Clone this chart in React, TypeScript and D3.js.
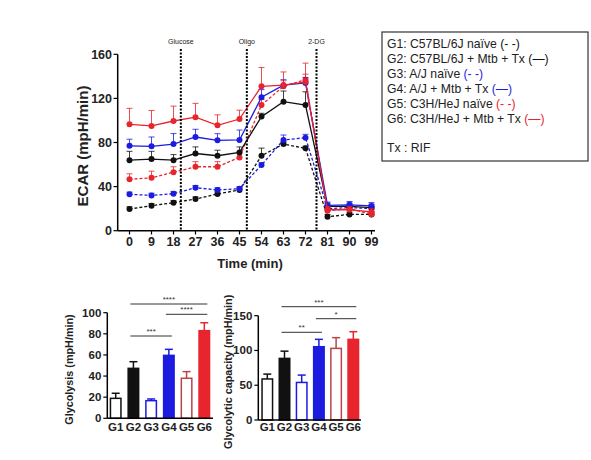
import React from 'react';
import * as d3 from 'd3';

const times = [0, 9, 18, 27, 36, 45, 54, 63, 72, 81, 90, 99];
const g1Mean = [19.7, 22.7, 25.4, 28.7, 33.3, 37, 68, 78.6, 74.7, 12.7, 14.8, 14.8];
const g1Err = [2, 2, 2, 2, 2, 2, 6.9, 2, 2, 2, 2, 2];
const g2Mean = [64, 65, 64, 70, 68, 71, 103.5, 117, 114, 22, 22, 21];
const g2Err = [8, 7, 5, 6, 5, 5, 3, 9.7, 12, 3, 3, 3];
const g3Mean = [33, 32, 33.6, 39, 37, 38, 59.6, 82.3, 84.4, 20, 21, 20];
const g3Err = [2, 2, 2, 2, 2, 2, 2, 4.5, 3, 2, 2, 2];
const g4Mean = [77, 76.5, 78.6, 85, 82, 82.3, 121, 132, 134, 23, 23.5, 22.5];
const g4Err = [6, 8.5, 9.5, 7, 6, 9, 7, 5, 5, 3, 3, 3];
const g5Mean = [46.6, 48, 53, 58, 58, 66.5, 114, 131, 137, 18, 20, 15];
const g5Err = [5, 6, 5, 4.6, 4.6, 5, 5, 5, 5, 2, 2, 2];
const g6Mean = [96.5, 95, 99.5, 103, 95.6, 101.3, 131, 132, 135, 19, 19, 17];
const g6Err = [14.5, 14, 13.5, 12.5, 9.5, 8, 17, 12, 17, 3, 3, 3];

const yTicksTop = [0, 40, 80, 120, 160];
const markerTimes = [21, 48, 76.5];
const markerLabels = ['Glucose', 'Oligo', '2-DG'];

const groups = ['G1', 'G2', 'G3', 'G4', 'G5', 'G6'];
const glycolysis = [18.9, 47.3, 16.7, 59.6, 37.9, 83];
const glycolysisErr = [4.8, 6.3, 1.6, 5.7, 6.3, 7.5];
const capacity = [59, 88.6, 54, 105.4, 103, 116];
const capacityErr = [7, 10.4, 10.6, 10.6, 15.4, 11];
const glyTicks = [0, 20, 40, 60, 80, 100];
const capTicks = [0, 50, 100, 150];

const legendNames = [
  'G1: C57BL/6J  naïve ',
  'G2: C57BL/6J  + Mtb + Tx ',
  'G3: A/J naïve ',
  'G4: A/J + Mtb + Tx ',
  'G5: C3H/HeJ  naïve ',
  'G6: C3H/HeJ + Mtb + Tx ',
];
const legendMarks = ['(- -)', '(—)', '(- -)', '(—)', '(- -)', '(—)'];

const BLACK = '#111';
const BLUE = '#1c1ce0';
const RED = '#e8242c';
const PINK = '#b8454a';
const groupColors = [BLACK, BLACK, BLUE, BLUE, RED, RED];
const barFill = ['#fff', BLACK, '#fff', BLUE, '#fff', RED];
const barStroke = [BLACK, BLACK, BLUE, BLUE, PINK, RED];
const dashed = [true, false, true, false, true, false];

const FONT = '"Liberation Sans", Arial, sans-serif';

function BarChart({ values, errs, ticks, yMax, axisX, axisEnd, y0, yTop, first, last, title, titleX, titleSize, sig }: any) {
  const y = d3.scaleLinear().domain([0, yMax]).range([y0, yTop]);
  const x = d3.scalePoint().domain(groups).range([first, last]);
  const bw = 12;
  return (
    <g>
      {values.map((v: number, i: number) => {
        const cx = x(groups[i])!;
        const top = y(v);
        const et = y(v + errs[i]);
        return (
          <g key={i}>
            <line x1={cx} x2={cx} y1={top} y2={et} stroke={barStroke[i]} strokeWidth={1.5} />
            <line x1={cx - 4} x2={cx + 4} y1={et} y2={et} stroke={barStroke[i]} strokeWidth={1.5} />
            <rect x={cx - bw / 2 + 0.75} y={top} width={bw - 1.5} height={y0 - top} fill={barFill[i]} stroke={barStroke[i]} strokeWidth={1.5} />
          </g>
        );
      })}
      <line x1={axisX} x2={axisX} y1={yTop} y2={y0} stroke="#000" strokeWidth={1.5} />
      <line x1={axisX} x2={axisEnd} y1={y0} y2={y0} stroke="#000" strokeWidth={1.5} />
      {ticks.map((t: number) => (
        <g key={t}>
          <line x1={axisX - 4} x2={axisX} y1={y(t)} y2={y(t)} stroke="#000" strokeWidth={1.2} />
          <text x={axisX - 6} y={y(t) + 4} textAnchor="end" fontSize={11.5} fontWeight="bold" fill="#222">{t}</text>
        </g>
      ))}
      {groups.map((g) => (
        <text key={g} x={x(g)!} y={431} textAnchor="middle" fontSize={11.5} fontWeight="bold" fill="#222">{g}</text>
      ))}
      <text transform={`translate(${titleX},${(y0 + yTop) / 2 + 4}) rotate(-90)`} textAnchor="middle" fontSize={titleSize} fontWeight="bold" fill="#222">{title}</text>
      {sig.map((s: any, i: number) => (
        <g key={i}>
          <line x1={x(s.a)! - 3} x2={x(s.b)! + 3} y1={s.y} y2={s.y} stroke="#333" strokeWidth={1} />
          <text x={(x(s.a)! + x(s.b)!) / 2} y={s.y - 2} textAnchor="middle" fontSize={8} fill="#333">{s.label}</text>
        </g>
      ))}
    </g>
  );
}

export default function App() {
  const x = d3.scaleLinear().domain([0, 99]).range([129.5, 371.5]);
  const y = d3.scaleLinear().domain([0, 160]).range([230.7, 54.3]);
  const series = [
    { m: g1Mean, e: g1Err },
    { m: g2Mean, e: g2Err },
    { m: g3Mean, e: g3Err },
    { m: g4Mean, e: g4Err },
    { m: g5Mean, e: g5Err },
    { m: g6Mean, e: g6Err },
  ];
  const line = d3.line<number>().x((_, i) => x(times[i])).y((d) => y(d));
  const order = [0, 2, 4, 1, 3, 5];

  return (
    <svg width={591} height={460} style={{ position: 'absolute', left: 0, top: 0, background: '#fff' }} fontFamily={FONT}>
      {/* top chart */}
      {order.map((k) => {
        const s = series[k];
        const c = k >= 4 ? RED : groupColors[k];
        return (
          <g key={k}>
            {s.m.map((v, i) => (
              <g key={i}>
                <line x1={x(times[i])} x2={x(times[i])} y1={y(v)} y2={y(v + s.e[i])} stroke={c} strokeWidth={1} opacity={0.8} />
                <line x1={x(times[i]) - 3} x2={x(times[i]) + 3} y1={y(v + s.e[i])} y2={y(v + s.e[i])} stroke={c} strokeWidth={1} opacity={0.8} />
              </g>
            ))}
            <path d={line(s.m)!} fill="none" stroke={c} strokeWidth={1.3} strokeDasharray={dashed[k] ? '3,2' : undefined} />
            {s.m.map((v, i) => (
              <circle key={i} cx={x(times[i])} cy={y(v)} r={3} fill={c} />
            ))}
          </g>
        );
      })}
      {markerTimes.map((t, i) => (
        <g key={t}>
          <line x1={x(t)} x2={x(t)} y1={49} y2={230.7} stroke="#000" strokeWidth={2} strokeDasharray="2,1.5" />
          <text x={x(t)} y={44} textAnchor="middle" fontSize={7} fill="#222">{markerLabels[i]}</text>
        </g>
      ))}
      <line x1={117.7} x2={117.7} y1={54.3} y2={230.7} stroke="#000" strokeWidth={1.5} />
      <line x1={117.7} x2={375} y1={230.7} y2={230.7} stroke="#000" strokeWidth={1.5} />
      {yTicksTop.map((t) => (
        <g key={t}>
          <line x1={113.5} x2={117.7} y1={y(t)} y2={y(t)} stroke="#000" strokeWidth={1.2} />
          <text x={112} y={y(t) + 4.5} textAnchor="end" fontSize={12.5} fontWeight="bold" fill="#222">{t}</text>
        </g>
      ))}
      {times.map((t) => (
        <g key={t}>
          <line x1={x(t)} x2={x(t)} y1={230.7} y2={234.5} stroke="#000" strokeWidth={1.2} />
          <text x={x(t)} y={245.5} textAnchor="middle" fontSize={12.5} fontWeight="bold" fill="#222">{t}</text>
        </g>
      ))}
      <text x={250} y={268} textAnchor="middle" fontSize={13} fontWeight="bold" fill="#222">Time (min)</text>
      <text transform="translate(88,146) rotate(-90)" textAnchor="middle" fontSize={15} fontWeight="bold" fill="#222">ECAR (mpH/min)</text>

      {/* legend */}
      <rect x={382} y={32} width={206} height={129} fill="#fff" stroke="#333" strokeWidth={1.2} />
      {legendNames.map((n, i) => (
        <text key={i} x={387} y={48 + i * 15} fontSize={12.2} fill="#222">
          {n}
          <tspan fill={groupColors[i]}>{legendMarks[i]}</tspan>
        </text>
      ))}
      <text x={387} y={152} fontSize={12.2} fill="#222">Tx : RIF</text>

      {/* bottom left */}
      <BarChart values={glycolysis} errs={glycolysisErr} ticks={glyTicks} yMax={100}
        axisX={107.3} axisEnd={213} y0={418.3} yTop={312.7} first={115.7} last={204.3}
        title="Glycolysis (mpH/min)" titleX={73} titleSize={10.8}
        sig={[{ a: 'G2', b: 'G4', y: 336, label: '***' }, { a: 'G2', b: 'G6', y: 304, label: '****' }, { a: 'G4', b: 'G6', y: 314.3, label: '****' }]} />
      {/* bottom right */}
      <BarChart values={capacity} errs={capacityErr} ticks={capTicks} yMax={150}
        axisX={258.3} axisEnd={361} y0={420} yTop={315.7} first={267.3} last={353.3}
        title="Glycolytic capacity (mpH/min)" titleX={232} titleSize={10.8}
        sig={[{ a: 'G2', b: 'G4', y: 332.3, label: '**' }, { a: 'G2', b: 'G6', y: 306.7, label: '***' }, { a: 'G4', b: 'G6', y: 318.7, label: '*' }]} />
    </svg>
  );
}
